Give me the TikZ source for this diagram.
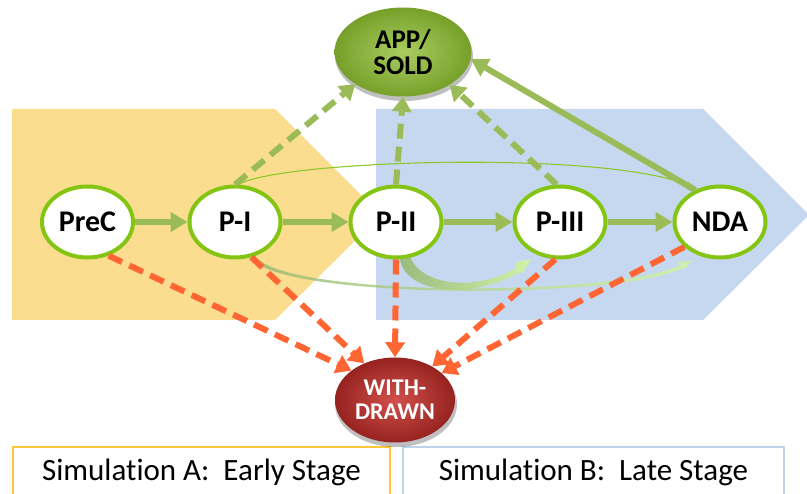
\documentclass[tikz,border=0pt]{standalone}
\usepackage{fontspec}
\setmainfont{Carlito}[Ligatures=NoCommon]
\usetikzlibrary{arrows.meta,shapes.geometric,shadows}
\definecolor{ringgreen}{RGB}{132,196,18}
\definecolor{arrgreen}{RGB}{155,187,89}
\definecolor{arrorange}{RGB}{255,102,51}
\definecolor{earlyfill}{RGB}{251,221,143}
\definecolor{latefill}{RGB}{198,216,240}
\definecolor{earlyline}{RGB}{250,200,60}
\definecolor{lateline}{RGB}{190,210,236}
\definecolor{curvedark}{RGB}{150,185,115}
\definecolor{curvelight}{RGB}{210,245,160}
\definecolor{thingreen}{RGB}{140,200,40}
\definecolor{appin}{RGB}{170,205,95}
\definecolor{appout}{RGB}{118,160,42}
\definecolor{wdin}{RGB}{210,80,75}
\definecolor{wdout}{RGB}{150,35,32}
\tikzset{
  stage/.style={ellipse, draw=ringgreen, line width=4pt, fill=white,
    minimum width=91pt, minimum height=71pt, inner sep=0pt,
    font=\fontsize{30}{30}\selectfont\bfseries},
  outcome/.style={ellipse, minimum width=137pt, minimum height=89pt, inner sep=0pt,
    align=center, font=\fontsize{27}{26}\selectfont\bfseries},
  advance/.style={draw=arrgreen, line width=6pt, -{Triangle[length=17pt,width=19pt]}},
  approve/.style={draw=arrgreen, line width=6pt, dash pattern=on 15pt off 8pt,
    -{Triangle[length=15pt,width=19pt]}},
  fail/.style={draw=arrorange, line width=6pt, dash pattern=on 15pt off 8pt,
    -{Triangle[length=15pt,width=19pt]}},
  simbox/.style={line width=1.5pt, fill=white, minimum height=50pt, inner sep=0pt,
    font=\fontsize{31}{31}\selectfont}
}
\begin{document}
\begin{tikzpicture}[x=1pt,y=-1pt]
\useasboundingbox (0,0) rectangle (807,494);
% stage backgrounds
\fill[earlyfill] (12,109) -- (275,109) -- (381,215) -- (275,320) -- (12,320) -- cycle;
\fill[latefill] (376,109) -- (703,109) -- (807,213) -- (807,217) -- (703,320) -- (376,320) -- cycle;
% simulation boxes
\node[simbox, draw=earlyline, minimum width=377pt] (simA) at (201.5,472) {Simulation A:\ \ Early Stage};
\node[simbox, draw=lateline, minimum width=381pt] (simB) at (593.5,472) {Simulation B:\ \ Late Stage};
% stage nodes
\node[stage] (prec) at (87.5,222) {PreC};
\node[stage] (p1) at (235,222) {P-I};
\node[stage] (p2) at (396,222) {P-II};
\node[stage] (p3) at (560,222) {P-III};
\node[stage] (nda) at (720,222) {NDA};
% outcome shadows
\fill[black, opacity=0.25] (404,56) ellipse [x radius=69pt, y radius=45pt];
\fill[black, opacity=0.25] (396,404) ellipse [x radius=61pt, y radius=43pt];
% outcome nodes
\node[outcome, inner color=appin, outer color=appout] (app) at (403,52) {APP/\\SOLD};
\node[outcome, minimum width=120pt, minimum height=85pt, text=white,
  font=\fontsize{24}{24}\selectfont\bfseries,
  inner color=wdin, outer color=wdout] (wd) at (395,400) {WITH-\\DRAWN};
% thin curved arrow on top
\draw[thingreen, line width=1.1pt, -{Triangle[length=12pt,width=6pt]}]
  (p1.85) .. controls (280,160) and (600,150) .. (nda.124);
% tapered curved arrows below
\shade[left color=curvedark, right color=curvelight, opacity=0.8]
  (p1.-66) .. controls (276,300) and (620,300) .. (683,268)
  -- (682.5,271.5) -- (692,260) -- (677,262.5) -- (680,265)
  .. controls (620,297) and (283,298) .. (p1.-59) -- cycle;
\shade[left color=curvedark, right color=curvelight, opacity=0.9]
  (p2.-84) .. controls (408,298) and (480,296) .. (518,273)
  -- (523,272.5) -- (531,259) -- (515.5,262.5) -- (516,268)
  .. controls (480,290) and (424,288) .. (p2.-68) -- cycle;
% progression arrows
\draw[advance] (prec) -- (p1);
\draw[advance] (p1) -- (p2);
\draw[advance] (p2) -- (p3);
\draw[advance] (p3) -- (nda);
% approval arrows
\draw[approve] (p1.north) -- (app.214);
\draw[approve] (p2.north) -- (app.south);
\draw[approve] (p3.95) -- (app.-35);
\draw[advance] (nda.128) -- (app.-6);
% withdrawal arrows
\draw[fail] (prec.-58) -- (wd.146);
\draw[fail] (p1.-65) -- (wd.130);
\draw[fail] (p2.south) -- (wd.north);
\draw[fail] (p3.-97) -- (wd.42);
\draw[fail] (nda.-145) -- (wd.30);
\end{tikzpicture}
\end{document}
